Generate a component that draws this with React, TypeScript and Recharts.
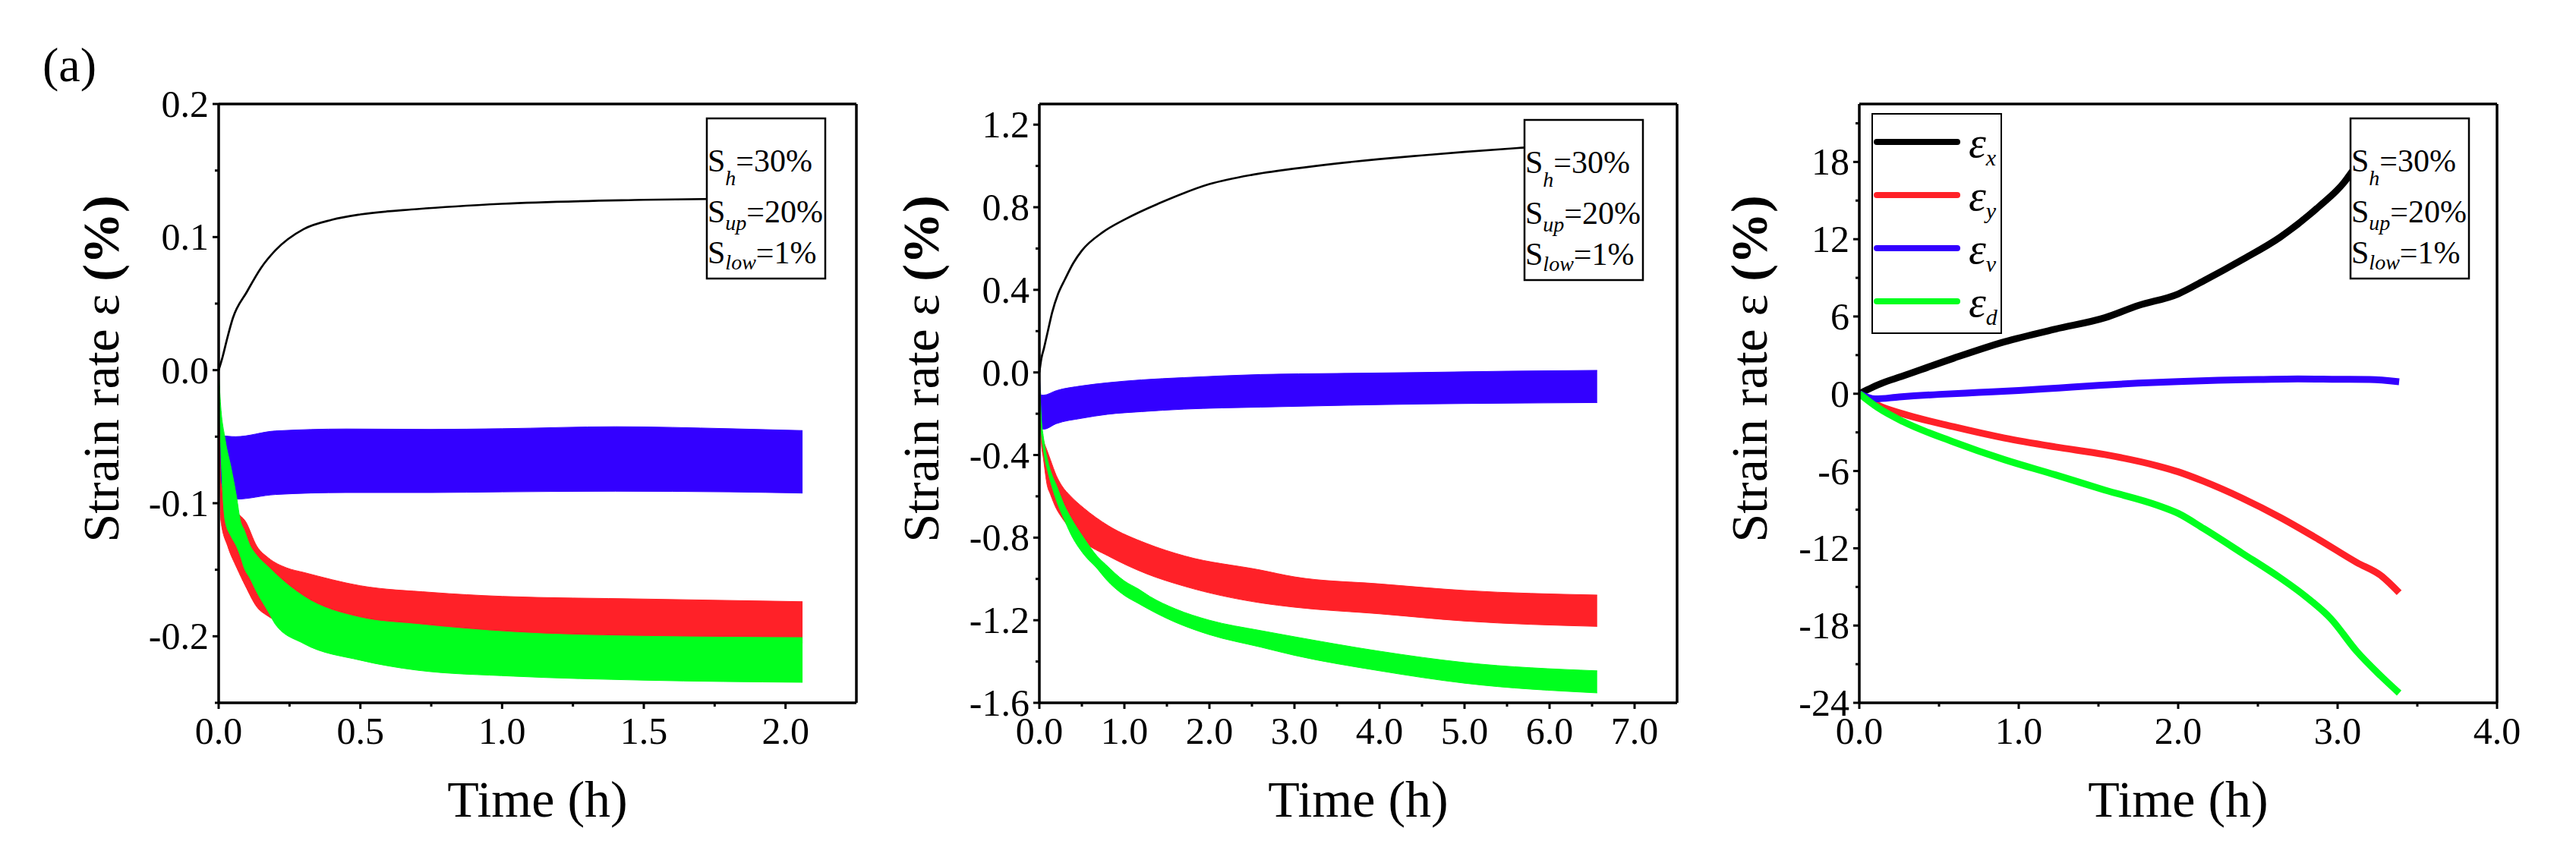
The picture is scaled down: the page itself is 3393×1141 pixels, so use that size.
import React from "react";
import { Area, ComposedChart, Legend, Line, ReferenceLine, XAxis, YAxis } from "recharts";

const FONT = "'Liberation Serif', 'Times New Roman', serif";
const RED = "#ff2128";
const GREEN = "#00ff1e";
const BLUE = "#3300ff";

// page layout (px)
const PAGE_W = 3393;
const PAGE_H = 1141;
const PLOT_TOP = 137;
const PLOT_BOTTOM = 926;
const PLOT_W = 840;
const AXIS_W = 210;
const RIGHT_PAD = 60;
const AXIS_LINE = { stroke: "#000", strokeWidth: 3.5 };

// ---- left panel: Time 0-2.25 h ----
const p1XMajor = [0, 0.5, 1.0, 1.5, 2.0];
const p1XMinor = [0.25, 0.75, 1.25, 1.75];
const p1YMajor = [-0.2, -0.1, 0, 0.1, 0.2];
const p1YMinor = [-0.25, -0.15, -0.05, 0.05, 0.15];
// [t, strain]
const p1Black = [[0, 0], [0.014, 0.01], [0.028, 0.022], [0.05, 0.039], [0.1, 0.059], [0.15, 0.077], [0.2, 0.09], [0.3, 0.106], [0.4, 0.113], [0.5, 0.117], [0.7, 0.121], [1.0, 0.125], [1.5, 0.128], [2.07, 0.1295]];
// [t, lower, upper] envelopes of the cyclic bands
const p1Blue = [[0, -0.01, 0], [0.01, -0.093, -0.049], [0.06, -0.097, -0.05], [0.2, -0.0935, -0.0457], [0.45, -0.092, -0.0442], [0.75, -0.092, -0.0445], [1.0, -0.0915, -0.044], [1.4, -0.091, -0.0425], [1.8, -0.0915, -0.044], [2.06, -0.0924, -0.0454]];
const p1Red = [[0, 0, 0], [0.008, -0.1134, -0.085], [0.032, -0.1324, -0.098], [0.064, -0.1486, -0.107], [0.094, -0.162, -0.1134], [0.135, -0.178, -0.1324], [0.175, -0.185, -0.141], [0.24, -0.192, -0.1486], [0.3, -0.197, -0.152], [0.5, -0.203, -0.162], [0.75, -0.205, -0.167], [1.0, -0.205, -0.17], [1.5, -0.205, -0.172], [2.06, -0.205, -0.174]];
const p1Green = [[0, 0, 0], [0.005, -0.04, -0.02], [0.023, -0.1134, -0.052], [0.044, -0.125, -0.0734], [0.063, -0.1324, -0.095], [0.077, -0.14, -0.1134], [0.09, -0.1486, -0.12], [0.112, -0.157, -0.1324], [0.13, -0.165, -0.138], [0.179, -0.183, -0.1486], [0.2, -0.191, -0.153], [0.3, -0.2055, -0.17], [0.5, -0.218, -0.186], [0.7, -0.2255, -0.191], [1.04, -0.23, -0.197], [1.5, -0.233, -0.2], [2.06, -0.2346, -0.201]];

// ---- middle panel: Time 0-7.5 h ----
const p2XMajor = [0, 1, 2, 3, 4, 5, 6, 7];
const p2XMinor = [0.5, 1.5, 2.5, 3.5, 4.5, 5.5, 6.5];
const p2YMajor = [-1.6, -1.2, -0.8, -0.4, 0, 0.4, 0.8, 1.2];
const p2YMinor = [-1.4, -1.0, -0.6, -0.2, 0.2, 0.6, 1.0];
const p2Black = [[0, 0], [0.024, 0.068], [0.054, 0.117], [0.1, 0.2], [0.15, 0.29], [0.22, 0.38], [0.3, 0.45], [0.4, 0.53], [0.5, 0.59], [0.75, 0.68], [1.0, 0.74], [1.5, 0.835], [2.0, 0.912], [2.5, 0.957], [3.0, 0.987], [3.5, 1.012], [4.0, 1.033], [4.5, 1.051], [5.0, 1.068], [5.6, 1.086], [6.55, 1.105]];
const p2Blue = [[0, -0.02, 0], [0.02, -0.27, -0.11], [0.05, -0.275, -0.11], [0.2, -0.248, -0.088], [0.5, -0.222, -0.065], [0.8, -0.203, -0.05], [1.2, -0.19, -0.036], [1.7, -0.178, -0.025], [2.6, -0.168, -0.01], [3.5, -0.16, -0.005], [4.5, -0.153, 0.0], [5.5, -0.149, 0.006], [6.56, -0.146, 0.01]];
const p2Red = [[0, 0, 0], [0.02, -0.32, -0.27], [0.05, -0.423, -0.33], [0.092, -0.546, -0.38], [0.13, -0.59, -0.423], [0.2, -0.66, -0.5], [0.26, -0.7, -0.546], [0.37, -0.76, -0.6], [0.52, -0.82, -0.656], [0.81, -0.889, -0.742], [1.26, -0.975, -0.828], [1.71, -1.036, -0.889], [2.6, -1.116, -0.957], [3.0, -1.137, -0.99], [4.0, -1.169, -1.024], [5.0, -1.204, -1.056], [6.56, -1.23, -1.078]];
const p2Green = [[0, 0, 0], [0.02, -0.27, -0.2], [0.05, -0.38, -0.32], [0.1, -0.48, -0.43], [0.143, -0.546, -0.49], [0.2, -0.62, -0.546], [0.29, -0.71, -0.64], [0.366, -0.78, -0.7], [0.52, -0.88, -0.8], [0.68, -0.95, -0.89], [0.78, -1.0, -0.93], [1.0, -1.08, -1.01], [1.17, -1.12, -1.05], [1.3, -1.15, -1.085], [1.6, -1.21, -1.145], [2.0, -1.27, -1.2], [2.6, -1.33, -1.25], [3.0, -1.37, -1.28], [4.0, -1.445, -1.35], [5.0, -1.505, -1.405], [6.56, -1.552, -1.445]];

// ---- right panel: Time 0-4 h ----
const p3XMajor = [0, 1, 2, 3, 4];
const p3XMinor = [0.5, 1.5, 2.5, 3.5];
const p3YMajor = [-24, -18, -12, -6, 0, 6, 12, 18];
const p3YMinor = [-21, -15, -9, -3, 3, 9, 15, 21];
const p3Ex = [[0, 0], [0.116, 0.69], [0.275, 1.38], [0.59, 2.75], [0.91, 4.03], [1.23, 5.02], [1.54, 5.9], [1.75, 6.85], [2.0, 7.75], [2.16, 8.77], [2.4, 10.4], [2.64, 12.16], [2.88, 14.5], [3.04, 16.4], [3.1, 17.4], [3.2, 18.7], [3.3, 20.0], [3.386, 21.0]];
const p3Ey = [[0, 0], [0.116, -0.89], [0.275, -1.57], [0.59, -2.56], [0.91, -3.44], [1.23, -4.13], [1.54, -4.72], [1.87, -5.6], [2.0, -6.06], [2.16, -6.8], [2.4, -8.1], [2.64, -9.6], [2.88, -11.3], [3.12, -13.1], [3.27, -14.1], [3.386, -15.45]];
const p3Ev = [[0, 0], [0.1, -0.4], [0.25, -0.25], [0.5, -0.05], [0.75, 0.1], [1.0, 0.25], [1.25, 0.45], [1.5, 0.65], [1.75, 0.82], [2.0, 0.95], [2.25, 1.05], [2.5, 1.1], [2.75, 1.15], [3.0, 1.12], [3.2, 1.1], [3.386, 0.93]];
const p3Ed = [[0, 0], [0.116, -1.08], [0.275, -2.17], [0.59, -3.74], [0.91, -5.12], [1.23, -6.3], [1.54, -7.48], [1.87, -8.66], [2.0, -9.29], [2.16, -10.47], [2.4, -12.37], [2.64, -14.3], [2.8, -15.75], [2.96, -17.5], [3.12, -20.0], [3.27, -21.9], [3.386, -23.24]];

const legendSubs = ["x", "y", "v", "d"];
const boxParams = [["h", "30%"], ["up", "20%"], ["low", "1%"]];

const line = (rows: number[][]) => rows.map(([t, v]) => ({ t, v }));
const band = (rows: number[][]) => rows.map(([t, lo, hi]) => ({ t, r: [lo, hi] }));
const isMajor = (v: number, list: number[]) => list.some((m) => Math.abs(m - v) < 1e-9);
const fix1 = (v: number) => v.toFixed(1);

function xTick(majors: number[]) {
  return (p: any) => {
    const v = p.payload.value;
    const major = isMajor(v, majors);
    return (
      <g>
        <line x1={p.x} x2={p.x} y1={p.y} y2={p.y + (major ? 8 : 5)} stroke="#000" strokeWidth={3} />
        {major && (
          <text x={p.x} y={p.y + 54} textAnchor="middle" fontFamily={FONT} fontSize={50} fill="#000">
            {fix1(v)}
          </text>
        )}
      </g>
    );
  };
}

function yTick(majors: number[], fmt: (v: number) => string) {
  return (p: any) => {
    const v = p.payload.value;
    const major = isMajor(v, majors);
    return (
      <g>
        <line x1={p.x} x2={p.x - (major ? 8 : 5)} y1={p.y} y2={p.y} stroke="#000" strokeWidth={3} />
        {major && (
          <text x={p.x - 13} y={p.y + 17} textAnchor="end" fontFamily={FONT} fontSize={50} fill="#000">
            {fmt(v)}
          </text>
        )}
      </g>
    );
  };
}

type PanelProps = {
  plotLeft: number; xMax: number; yMin: number; yMax: number;
  xMajor: number[]; xMinor: number[]; yMajor: number[]; yMinor: number[];
  yFmt: (v: number) => string; children: React.ReactNode;
};

function Panel({ plotLeft, xMax, yMin, yMax, xMajor, xMinor, yMajor, yMinor, yFmt, children }: PanelProps) {
  return (
    <div style={{ position: "absolute", left: plotLeft - AXIS_W, top: 0 }}>
      <ComposedChart width={AXIS_W + PLOT_W + RIGHT_PAD} height={PAGE_H} margin={{ top: PLOT_TOP, right: RIGHT_PAD, bottom: 0, left: 0 }}>
        <XAxis dataKey="t" type="number" domain={[0, xMax]} allowDataOverflow ticks={[...xMajor, ...xMinor]} interval={0}
          tickSize={0} tickMargin={0} tickLine={false} axisLine={AXIS_LINE} tick={xTick(xMajor)} height={PAGE_H - PLOT_BOTTOM} />
        <YAxis type="number" domain={[yMin, yMax]} allowDataOverflow ticks={[...yMajor, ...yMinor]} interval={0}
          tickSize={0} tickMargin={0} tickLine={false} axisLine={AXIS_LINE} tick={yTick(yMajor, yFmt)} width={AXIS_W} />
        <ReferenceLine y={yMax} stroke="#000" strokeWidth={3.5} ifOverflow="visible" />
        <ReferenceLine x={xMax} stroke="#000" strokeWidth={3.5} ifOverflow="visible" />
        {children}
      </ComposedChart>
    </div>
  );
}

const bandArea = (key: string, rows: number[][], color: string) => (
  <Area key={key} data={band(rows)} dataKey="r" type="monotone" stroke={color} strokeWidth={1} fill={color} fillOpacity={1}
    dot={false} activeDot={false} isAnimationActive={false} />
);

function renderLegend(props: any) {
  const items = [...(props.payload || [])].sort(
    (a: any, b: any) => legendSubs.indexOf(a.value) - legendSubs.indexOf(b.value)
  );
  return (
    <svg width={172} height={291} style={{ display: "block", overflow: "visible" }}>
      <rect x={1} y={1} width={170} height={289} fill="#fff" stroke="#000" strokeWidth={2} />
      {items.map((e: any, i: number) => {
        const y = 38 + i * 70;
        return (
          <g key={e.value}>
            <line x1={7} x2={113} y1={y} y2={y} stroke={e.color} strokeWidth={8} strokeLinecap="round" />
            <text x={128} y={y + 20} fontFamily={FONT} fontStyle="italic" fontSize={58} fill="#000">
              ε<tspan dy={11} fontSize={30}>{e.value}</tspan>
            </text>
          </g>
        );
      })}
    </svg>
  );
}

function ParamBox({ x, y }: { x: number; y: number }) {
  const base = [70, 137, 191];
  const drop = [18, 10, 8];
  return (
    <g>
      <rect x={x} y={y} width={156} height={211} fill="#fff" stroke="#000" strokeWidth={2.5} />
      {boxParams.map(([sub, val], i) => (
        <text key={sub} x={x + 1} y={y + base[i]} fontFamily={FONT} fontSize={42} fill="#000">
          S<tspan dy={drop[i]} fontSize={28} fontStyle="italic">{sub}</tspan>
          <tspan dy={-drop[i]}>={val}</tspan>
        </text>
      ))}
    </g>
  );
}

const PLOT_LEFTS = [288, 1369, 2449];

function YTitle({ x }: { x: number }) {
  return (
    <text transform={`translate(${x},486) rotate(-90)`} textAnchor="middle" fontFamily={FONT} fontSize={68} fill="#000">
      Strain rate ε <tspan fontWeight="bold">(%)</tspan>
    </text>
  );
}

export default function App() {
  return (
    <div style={{ position: "absolute", left: 0, top: 0, width: PAGE_W, height: PAGE_H, background: "#fff", overflow: "hidden" }}>
      <Panel plotLeft={PLOT_LEFTS[0]} xMax={2.25} yMin={-0.25} yMax={0.2} xMajor={p1XMajor} xMinor={p1XMinor}
        yMajor={p1YMajor} yMinor={p1YMinor} yFmt={fix1}>
        {[
          <Line key="k" data={line(p1Black)} dataKey="v" type="monotone" stroke="#000" strokeWidth={2.7} dot={false} activeDot={false} isAnimationActive={false} />,
          bandArea("b", p1Blue, BLUE),
          bandArea("r", p1Red, RED),
          bandArea("g", p1Green, GREEN),
        ]}
      </Panel>
      <Panel plotLeft={PLOT_LEFTS[1]} xMax={7.5} yMin={-1.6} yMax={1.3} xMajor={p2XMajor} xMinor={p2XMinor}
        yMajor={p2YMajor} yMinor={p2YMinor} yFmt={fix1}>
        {[
          <Line key="k" data={line(p2Black)} dataKey="v" type="monotone" stroke="#000" strokeWidth={2.7} dot={false} activeDot={false} isAnimationActive={false} />,
          bandArea("b", p2Blue, BLUE),
          bandArea("r", p2Red, RED),
          bandArea("g", p2Green, GREEN),
        ]}
      </Panel>
      <Panel plotLeft={PLOT_LEFTS[2]} xMax={4} yMin={-24} yMax={22.5} xMajor={p3XMajor} xMinor={p3XMinor}
        yMajor={p3YMajor} yMinor={p3YMinor} yFmt={(v) => String(v)}>
        {[
          <Line key="x" name={legendSubs[0]} data={line(p3Ex)} dataKey="v" type="monotone" stroke="#000" strokeWidth={9} dot={false} activeDot={false} isAnimationActive={false} />,
          <Line key="y" name={legendSubs[1]} data={line(p3Ey)} dataKey="v" type="monotone" stroke={RED} strokeWidth={9} dot={false} activeDot={false} isAnimationActive={false} />,
          <Line key="v" name={legendSubs[2]} data={line(p3Ev)} dataKey="v" type="monotone" stroke={BLUE} strokeWidth={9} dot={false} activeDot={false} isAnimationActive={false} />,
          <Line key="d" name={legendSubs[3]} data={line(p3Ed)} dataKey="v" type="monotone" stroke={GREEN} strokeWidth={9} dot={false} activeDot={false} isAnimationActive={false} />,
          <Legend key="leg" layout="vertical" align="center" verticalAlign="middle" content={renderLegend}
            wrapperStyle={{ left: 226, top: 149, width: 172, height: 291, right: "auto", bottom: "auto" }} />,
        ]}
      </Panel>
      <svg width={PAGE_W} height={PAGE_H} style={{ position: "absolute", left: 0, top: 0, pointerEvents: "none" }}>
        <text x={56} y={107} fontFamily={FONT} fontSize={64} fill="#000">(a)</text>
        <YTitle x={156} />
        <YTitle x={1236} />
        <YTitle x={2327} />
        {PLOT_LEFTS.map((l) => (
          <text key={l} x={l + PLOT_W / 2} y={1076} textAnchor="middle" fontFamily={FONT} fontSize={68} fill="#000">Time (h)</text>
        ))}
        <ParamBox x={931} y={156} />
        <ParamBox x={2008} y={158} />
        <ParamBox x={3096} y={156} />
      </svg>
    </div>
  );
}
